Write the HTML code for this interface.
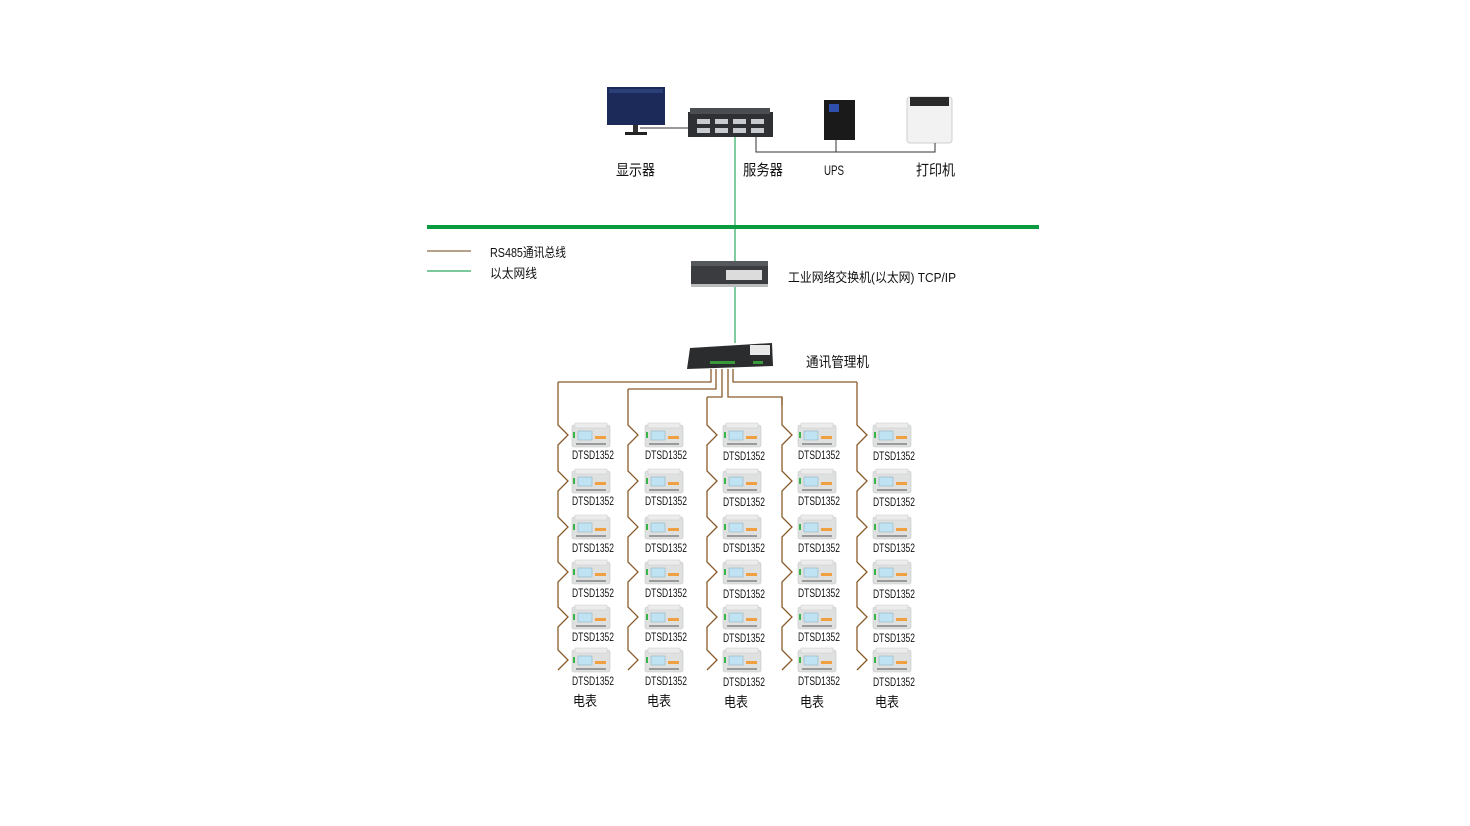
<!DOCTYPE html>
<html><head><meta charset="utf-8"><style>
html,body{margin:0;padding:0;background:#fff;}
svg{display:block;}
text{font-family:"Liberation Sans","Noto Sans CJK SC",sans-serif;fill:#111;}
</style></head><body>
<svg width="1470" height="826" viewBox="0 0 1470 826" xmlns="http://www.w3.org/2000/svg">
<defs>
<g id="m">
<rect x="0" y="2" width="38" height="22" rx="2" fill="#dfe1e0" stroke="#c4c6c5" stroke-width="0.6"/>
<rect x="3" y="0" width="32" height="5" fill="#ececec" stroke="#c9c9c9" stroke-width="0.5"/>
<rect x="1" y="9" width="2" height="6" fill="#39b54a"/>
<rect x="6" y="8" width="14" height="9" fill="#bfe3f2" stroke="#8ab" stroke-width="0.5"/>
<rect x="23" y="13" width="11" height="3" fill="#f0a040"/>
<rect x="4" y="20" width="30" height="2" fill="#9a9a9a"/>
</g>
</defs>

<rect x="607" y="87" width="58" height="38" fill="#1c2a5a"/>
<rect x="609" y="89" width="54" height="4" fill="#2d3f78"/>
<rect x="633" y="125" width="5" height="7" fill="#333"/>
<rect x="625" y="132" width="22" height="3" fill="#222"/>
<line x1="640" y1="128" x2="688" y2="128" stroke="#333" stroke-width="1"/>
<rect x="688" y="112" width="85" height="25" fill="#2e3033"/>
<rect x="690" y="108" width="80" height="6" fill="#4a4d52"/>
<g fill="#c8cbd0">
<rect x="697" y="119" width="13" height="5"/><rect x="715" y="119" width="13" height="5"/><rect x="733" y="119" width="13" height="5"/><rect x="751" y="119" width="13" height="5"/>
<rect x="697" y="128" width="13" height="5"/><rect x="715" y="128" width="13" height="5"/><rect x="733" y="128" width="13" height="5"/><rect x="751" y="128" width="13" height="5"/>
</g>
<rect x="824" y="100" width="31" height="40" fill="#1a1a1a"/>
<rect x="829" y="104" width="10" height="8" fill="#3050b0"/>
<rect x="907" y="97" width="45" height="46" rx="3" fill="#f2f2f2" stroke="#cfcfcf"/>
<rect x="910" y="97" width="39" height="9" fill="#2a2a2a"/>
<polyline points="756,137 756,152 935,152 935,143" fill="none" stroke="#333" stroke-width="1"/>
<line x1="836" y1="140" x2="836" y2="152" stroke="#333" stroke-width="1"/>

<text x="616" y="175" font-size="15" textLength="39" lengthAdjust="spacingAndGlyphs">显示器</text>
<text x="743" y="175" font-size="15" textLength="40" lengthAdjust="spacingAndGlyphs">服务器</text>
<text x="824" y="175" font-size="14" textLength="20" lengthAdjust="spacingAndGlyphs">UPS</text>
<text x="916" y="175" font-size="15" textLength="39" lengthAdjust="spacingAndGlyphs">打印机</text>

<line x1="735" y1="137" x2="735" y2="262" stroke="#2aa860" stroke-width="1.2"/>
<rect x="427" y="225" width="612" height="4" fill="#0a9a40"/>
<line x1="735" y1="286" x2="735" y2="343" stroke="#2aa860" stroke-width="1.2"/>

<line x1="427" y1="251" x2="471" y2="251" stroke="#8a6a44" stroke-width="1.2"/>
<line x1="427" y1="271" x2="471" y2="271" stroke="#2aa860" stroke-width="1.2"/>
<text x="490" y="257" font-size="13" textLength="76" lengthAdjust="spacingAndGlyphs">RS485通讯总线</text>
<text x="490" y="278" font-size="13" textLength="47" lengthAdjust="spacingAndGlyphs">以太网线</text>

<rect x="691" y="264" width="77" height="20" fill="#3a3c40"/>
<rect x="691" y="261" width="77" height="5" fill="#55585d"/>
<rect x="726" y="270" width="36" height="10" fill="#dcdcdc"/>
<rect x="691" y="284" width="77" height="3" fill="#bbb"/>
<text x="788" y="282" font-size="13" textLength="168" lengthAdjust="spacingAndGlyphs">工业网络交换机(以太网) TCP/IP</text>

<polygon points="690,348 772,343 773,366 687,369" fill="#2b2c2e"/>
<rect x="750" y="345" width="20" height="10" fill="#e8e8e8"/>
<rect x="710" y="361" width="25" height="3" fill="#3a9a3a"/>
<rect x="753" y="361" width="10" height="3" fill="#3a9a3a"/>
<text x="806" y="367" font-size="14" textLength="63" lengthAdjust="spacingAndGlyphs">通讯管理机</text>

<g fill="none" stroke="#8a5a2a" stroke-width="1.3">
<polyline points="711,369 711,382 558,382"/>
<polyline points="716,369 716,389 628,389"/>
<polyline points="722,369 722,397 707,397"/>
<polyline points="728,369 728,397 782,397 782,405"/>
<polyline points="733,369 733,382 857,382"/>
<path d="M558 382 V425 L568 435 L558 445 V471 L568 481 L558 491 V517 L568 527 L558 537 V562 L568 572 L558 582 V607 L568 617 L558 627 V650 L568 660 L558 670"/>
<path d="M628 389 V425 L638 435 L628 445 V471 L638 481 L628 491 V517 L638 527 L628 537 V562 L638 572 L628 582 V607 L638 617 L628 627 V650 L638 660 L628 670"/>
<path d="M707 397 V425 L717 435 L707 445 V471 L717 481 L707 491 V517 L717 527 L707 537 V562 L717 572 L707 582 V607 L717 617 L707 627 V650 L717 660 L707 670"/>
<path d="M782 397 V425 L792 435 L782 445 V471 L792 481 L782 491 V517 L792 527 L782 537 V562 L792 572 L782 582 V607 L792 617 L782 627 V650 L792 660 L782 670"/>
<path d="M857 382 V425 L867 435 L857 445 V471 L867 481 L857 491 V517 L867 527 L857 537 V562 L867 572 L857 582 V607 L867 617 L857 627 V650 L867 660 L857 670"/>
</g>

<g>
<use href="#m" x="572" y="423"/><use href="#m" x="572" y="469"/><use href="#m" x="572" y="515"/><use href="#m" x="572" y="560"/><use href="#m" x="572" y="605"/><use href="#m" x="572" y="648"/>
<use href="#m" x="645" y="423"/><use href="#m" x="645" y="469"/><use href="#m" x="645" y="515"/><use href="#m" x="645" y="560"/><use href="#m" x="645" y="605"/><use href="#m" x="645" y="648"/>
<use href="#m" x="723" y="423"/><use href="#m" x="723" y="469"/><use href="#m" x="723" y="515"/><use href="#m" x="723" y="560"/><use href="#m" x="723" y="605"/><use href="#m" x="723" y="648"/>
<use href="#m" x="798" y="423"/><use href="#m" x="798" y="469"/><use href="#m" x="798" y="515"/><use href="#m" x="798" y="560"/><use href="#m" x="798" y="605"/><use href="#m" x="798" y="648"/>
<use href="#m" x="873" y="423"/><use href="#m" x="873" y="469"/><use href="#m" x="873" y="515"/><use href="#m" x="873" y="560"/><use href="#m" x="873" y="605"/><use href="#m" x="873" y="648"/>
</g>

<g font-size="12">
<text x="572" y="459" textLength="42" lengthAdjust="spacingAndGlyphs">DTSD1352</text><text x="572" y="505" textLength="42" lengthAdjust="spacingAndGlyphs">DTSD1352</text><text x="572" y="552" textLength="42" lengthAdjust="spacingAndGlyphs">DTSD1352</text><text x="572" y="597" textLength="42" lengthAdjust="spacingAndGlyphs">DTSD1352</text><text x="572" y="641" textLength="42" lengthAdjust="spacingAndGlyphs">DTSD1352</text><text x="572" y="685" textLength="42" lengthAdjust="spacingAndGlyphs">DTSD1352</text>
<text x="645" y="459" textLength="42" lengthAdjust="spacingAndGlyphs">DTSD1352</text><text x="645" y="505" textLength="42" lengthAdjust="spacingAndGlyphs">DTSD1352</text><text x="645" y="552" textLength="42" lengthAdjust="spacingAndGlyphs">DTSD1352</text><text x="645" y="597" textLength="42" lengthAdjust="spacingAndGlyphs">DTSD1352</text><text x="645" y="641" textLength="42" lengthAdjust="spacingAndGlyphs">DTSD1352</text><text x="645" y="685" textLength="42" lengthAdjust="spacingAndGlyphs">DTSD1352</text>
<text x="723" y="460" textLength="42" lengthAdjust="spacingAndGlyphs">DTSD1352</text><text x="723" y="506" textLength="42" lengthAdjust="spacingAndGlyphs">DTSD1352</text><text x="723" y="552" textLength="42" lengthAdjust="spacingAndGlyphs">DTSD1352</text><text x="723" y="598" textLength="42" lengthAdjust="spacingAndGlyphs">DTSD1352</text><text x="723" y="642" textLength="42" lengthAdjust="spacingAndGlyphs">DTSD1352</text><text x="723" y="686" textLength="42" lengthAdjust="spacingAndGlyphs">DTSD1352</text>
<text x="798" y="459" textLength="42" lengthAdjust="spacingAndGlyphs">DTSD1352</text><text x="798" y="505" textLength="42" lengthAdjust="spacingAndGlyphs">DTSD1352</text><text x="798" y="552" textLength="42" lengthAdjust="spacingAndGlyphs">DTSD1352</text><text x="798" y="597" textLength="42" lengthAdjust="spacingAndGlyphs">DTSD1352</text><text x="798" y="641" textLength="42" lengthAdjust="spacingAndGlyphs">DTSD1352</text><text x="798" y="685" textLength="42" lengthAdjust="spacingAndGlyphs">DTSD1352</text>
<text x="873" y="460" textLength="42" lengthAdjust="spacingAndGlyphs">DTSD1352</text><text x="873" y="506" textLength="42" lengthAdjust="spacingAndGlyphs">DTSD1352</text><text x="873" y="552" textLength="42" lengthAdjust="spacingAndGlyphs">DTSD1352</text><text x="873" y="598" textLength="42" lengthAdjust="spacingAndGlyphs">DTSD1352</text><text x="873" y="642" textLength="42" lengthAdjust="spacingAndGlyphs">DTSD1352</text><text x="873" y="686" textLength="42" lengthAdjust="spacingAndGlyphs">DTSD1352</text>
</g>
<g font-size="14">
<text x="573" y="706" textLength="24" lengthAdjust="spacingAndGlyphs">电表</text><text x="647" y="706" textLength="24" lengthAdjust="spacingAndGlyphs">电表</text><text x="724" y="707" textLength="24" lengthAdjust="spacingAndGlyphs">电表</text><text x="800" y="707" textLength="24" lengthAdjust="spacingAndGlyphs">电表</text><text x="875" y="707" textLength="24" lengthAdjust="spacingAndGlyphs">电表</text>
</g>
</svg>
</body></html>
